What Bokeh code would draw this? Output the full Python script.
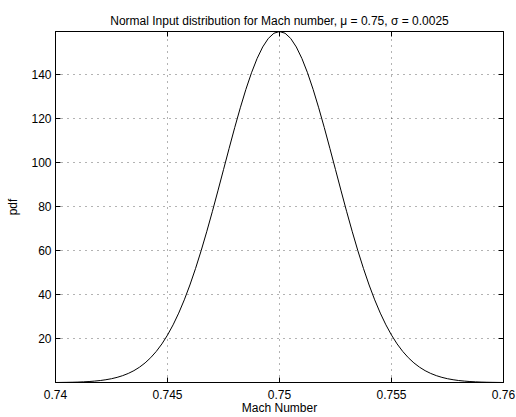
from bokeh.plotting import figure
from bokeh.models import Range1d, FixedTicker, LinearAxis, Title
from bokeh.embed import file_html
from bokeh.resources import INLINE

# Data
mach = [0.74000, 0.74025, 0.74050, 0.74075, 0.74100, 0.74125, 0.74150, 0.74175, 0.74200, 0.74225,
        0.74250, 0.74275, 0.74300, 0.74325, 0.74350, 0.74375, 0.74400, 0.74425, 0.74450, 0.74475,
        0.74500, 0.74525, 0.74550, 0.74575, 0.74600, 0.74625, 0.74650, 0.74675, 0.74700, 0.74725,
        0.74750, 0.74775, 0.74800, 0.74825, 0.74850, 0.74875, 0.74900, 0.74925, 0.74950, 0.74975,
        0.75000,
        0.75025, 0.75050, 0.75075, 0.75100, 0.75125, 0.75150, 0.75175, 0.75200, 0.75225, 0.75250,
        0.75275, 0.75300, 0.75325, 0.75350, 0.75375, 0.75400, 0.75425, 0.75450, 0.75475, 0.75500,
        0.75525, 0.75550, 0.75575, 0.75600, 0.75625, 0.75650, 0.75675, 0.75700, 0.75725, 0.75750,
        0.75775, 0.75800, 0.75825, 0.75850, 0.75875, 0.75900, 0.75925, 0.75950, 0.75975, 0.76000]
pdf = [0.05, 0.08, 0.12, 0.17, 0.24, 0.35, 0.49, 0.69, 0.95, 1.31,
       1.77, 2.38, 3.17, 4.17, 5.43, 7.01, 8.96, 11.33, 14.19, 17.59,
       21.60, 26.25, 31.58, 37.62, 44.37, 51.81, 59.89, 68.55, 77.67, 87.14,
       96.79, 106.43, 115.88, 124.90, 133.29, 140.83, 147.31, 152.55, 156.42, 158.78,
       159.58,
       158.78, 156.42, 152.55, 147.31, 140.83, 133.29, 124.90, 115.88, 106.43, 96.79,
       87.14, 77.67, 68.55, 59.89, 51.81, 44.37, 37.62, 31.58, 26.25, 21.60,
       17.59, 14.19, 11.33, 8.96, 7.01, 5.43, 4.17, 3.17, 2.38, 1.77,
       1.31, 0.95, 0.69, 0.49, 0.35, 0.24, 0.17, 0.12, 0.08, 0.05]

x_ticks = [0.74, 0.745, 0.75, 0.755, 0.76]
x_tick_labels = ["0.74", "0.745", "0.75", "0.755", "0.76"]
y_ticks = [20, 40, 60, 80, 100, 120, 140]

title_text = "Normal Input distribution for Mach number, \u03bc = 0.75, \u03c3 = 0.0025"
FONT = "Liberation Sans"

p = figure(width=516, height=417, output_backend="svg", toolbar_location=None,
           x_range=Range1d(0.74, 0.76), y_range=Range1d(0.05, 159.58),
           min_border_left=55, min_border_right=13, min_border_top=31, min_border_bottom=32,
           x_axis_label="Mach Number", y_axis_label="pdf")

p.title = Title(text=title_text, align="center", text_font=FONT, text_font_size="12px",
                text_font_style="normal", text_color="black", standoff=8)

p.line(mach, pdf, line_color="black", line_width=1)

p.outline_line_color = "black"
p.outline_line_width = 1
p.background_fill_color = "white"
p.border_fill_color = "white"

xt = FixedTicker(ticks=x_ticks, minor_ticks=[])
yt = FixedTicker(ticks=y_ticks, minor_ticks=[])

for ax in (p.xaxis[0], p.yaxis[0]):
    ax.major_tick_in = 5
    ax.major_tick_out = 0
    ax.minor_tick_in = 0
    ax.minor_tick_out = 0
    ax.axis_line_color = "black"
    ax.major_tick_line_color = "black"
    ax.major_label_text_font = FONT
    ax.major_label_text_font_size = "12px"
    ax.major_label_text_color = "black"
    ax.axis_label_text_font = FONT
    ax.axis_label_text_font_size = "12px"
    ax.axis_label_text_font_style = "normal"
    ax.axis_label_text_color = "black"

p.xaxis[0].ticker = xt
p.xaxis[0].major_label_overrides = {t: s for t, s in zip(x_ticks, x_tick_labels)}
p.xaxis[0].major_label_standoff = 7
p.xaxis[0].axis_label_standoff = -1
p.yaxis[0].ticker = yt
p.yaxis[0].major_label_standoff = 4
p.yaxis[0].axis_label_standoff = 8

top = LinearAxis(ticker=xt, major_tick_in=5, major_tick_out=0, minor_tick_in=0, minor_tick_out=0,
                 major_label_overrides={t: "" for t in x_ticks},
                 major_label_standoff=0, axis_line_color="black")
right = LinearAxis(ticker=yt, major_tick_in=5, major_tick_out=0, minor_tick_in=0, minor_tick_out=0,
                   major_label_overrides={t: "" for t in y_ticks},
                   major_label_standoff=0, axis_line_color="black")
p.add_layout(top, "above")
p.add_layout(right, "right")

p.xgrid.ticker = xt
p.ygrid.ticker = yt
for g in (p.xgrid[0], p.ygrid[0]):
    g.grid_line_color = "black"
    g.grid_line_alpha = 0.6
    g.grid_line_dash = "1 5"
    g.grid_line_width = 1

open("out.html", "w").write(file_html(p, INLINE))
